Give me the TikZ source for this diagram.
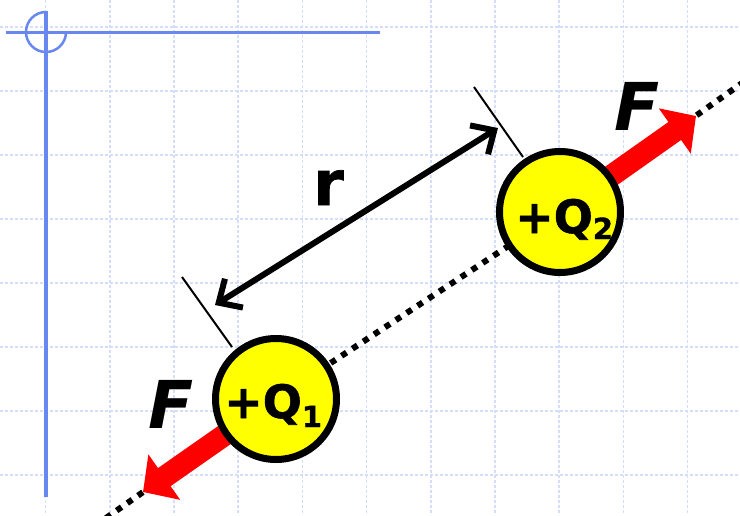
\documentclass[tikz,border=0pt]{standalone}
\usepackage{fontspec}
\setmainfont{DejaVu Sans}[BoldFeatures={FakeBold=1.2}]
\usetikzlibrary{arrows.meta}
\definecolor{gridblue}{RGB}{212,222,250}
\definecolor{lineblue}{RGB}{105,135,240}
\definecolor{chargeyellow}{RGB}{255,255,0}
\definecolor{forcered}{RGB}{255,0,0}
\begin{document}
\begin{tikzpicture}[x=1pt,y=-1pt,
  gridline/.style={gridblue, line width=1.6pt, dash pattern=on 3pt off 2pt},
  frameline/.style={lineblue, line width=3pt},
  dotline/.style={black, line width=6pt, dash pattern=on 6pt off 7pt},
  charge/.style={circle, draw=black, line width=7pt, fill=chargeyellow, minimum size=121pt, inner sep=0pt},
  chargetext/.style={anchor=base west, inner sep=0pt, font=\fontsize{46}{46}\selectfont\bfseries},
  force/.style={forcered, line width=22pt, -{Triangle[length=26pt,width=54pt]}},
  flabel/.style={anchor=base west, inner sep=0pt, font=\fontsize{66}{66}\selectfont\bfseries\itshape},
  dist/.style={black, line width=6pt, {Straight Barb[length=18pt,width=34pt]}-{Straight Barb[length=18pt,width=34pt]}},
  tickline/.style={black, line width=2pt}
]
\useasboundingbox (0,0) rectangle (740,515);
\fill[white] (0,0) rectangle (740,515);
% grid
\foreach \i in {0,...,10} \draw[gridline] (45.5+64.2*\i,0) -- (45.5+64.2*\i,515);
\foreach \j in {0,...,7} \draw[gridline] (0,27+64*\j) -- (740,27+64*\j);
% frame lines
\coordinate (hl) at (6,32);
\coordinate (hr) at (380,32);
\coordinate (vt) at (46,11);
\coordinate (vb) at (46,497);
\draw[frameline] (hl) -- (hr);
\draw[frameline, line width=3.5pt] (vt) -- (vb);
\draw[lineblue, line width=2.5pt] (46,12) arc[start angle=270, end angle=0, radius=20];
% centres
\coordinate (c1) at (276,399);
\coordinate (c2) at (560,212);
\coordinate (lowend) at (106,518);
\coordinate (highend) at (745,81);
\coordinate (tip1) at (143,492);
\coordinate (tip2) at (696,116);
\draw[dotline] (lowend) -- (c1) -- (c2) -- (highend);
\draw[force] (c1) -- (tip1);
\draw[force] (c2) -- (tip2);
\node[charge] (Q1) at (c1) {};
\node[charge] (Q2) at (c2) {};
\node[chargetext] (t1) at (224,418) {+Q\raisebox{-9pt}{\fontsize{29}{29}\selectfont 1}};
\node[chargetext] (t2) at (515,233) {+Q\raisebox{-6pt}{\fontsize{29}{29}\selectfont 2}};
% force labels
\node[flabel] (F1) at (148,428) {F};
\node[flabel] (F2) at (614,130) {F};
% distance
\coordinate (ta) at (182,277);
\coordinate (tb) at (232,347);
\coordinate (tc) at (474,87);
\coordinate (td) at (523,157);
\draw[tickline] (ta) -- (tb);
\draw[tickline] (tc) -- (td);
\coordinate (d1) at (215,305);
\coordinate (d2) at (498,128);
\draw[dist] (d1) -- (d2);
\node[anchor=base west, inner sep=0pt, font=\fontsize{62}{62}\selectfont\bfseries] (r) at (313,205) {r};
\end{tikzpicture}
\end{document}
